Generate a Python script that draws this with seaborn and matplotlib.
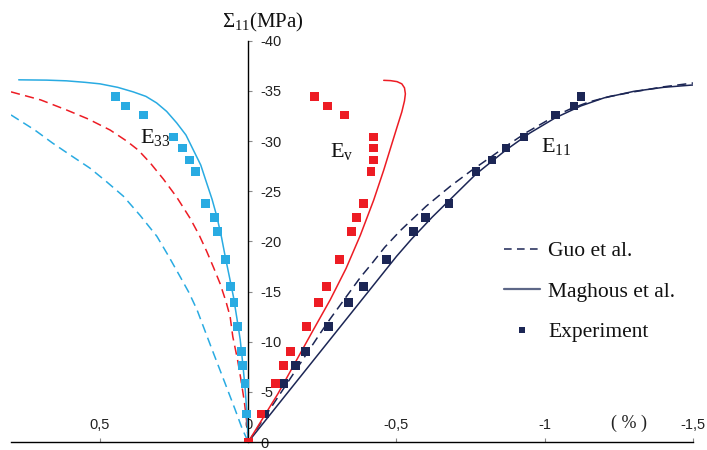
import numpy as np
import pandas as pd
import matplotlib
matplotlib.use("Agg")
import matplotlib.pyplot as plt
from matplotlib.lines import Line2D
import seaborn as sns

# ---------------- data ----------------
exp_stress = [-34.4, -33.5, -32.6, -30.4, -29.3, -28.1, -27.0, -23.8, -22.4, -21.0,
              -18.2, -15.5, -13.9, -11.5, -9.0, -7.6, -5.85, -2.8, 0.0]
exp_e11 = [-1.122, -1.099, -1.035, -0.930, -0.869, -0.822, -0.768, -0.677, -0.599, -0.558,
           -0.467, -0.390, -0.338, -0.270, -0.193, -0.160, -0.119, -0.055, 0.0]
exp_ev = [-0.224, -0.268, -0.325, -0.423, -0.423, -0.423, -0.414, -0.390, -0.365, -0.349,
          -0.308, -0.265, -0.238, -0.197, -0.143, -0.119, -0.092, -0.043, 0.0]
exp_e33 = [0.448, 0.414, 0.354, 0.253, 0.222, 0.198, 0.177, 0.144, 0.113, 0.104,
           0.077, 0.060, 0.048, 0.036, 0.023, 0.018, 0.011, 0.006, 0.0]

# Maghous et al. (solid)
mag_e11_x = [0, -0.2, -0.4, -0.50, -0.55, -0.62, -0.682, -0.768, -0.869, -0.95, -1.035, -1.122,
             -1.2, -1.3, -1.4, -1.505]
mag_e11_y = [0, -7.4, -14.8, -18.5, -20.2, -22.4, -24.2, -26.7, -29.1, -30.8, -32.3, -33.5,
             -34.3, -34.95, -35.35, -35.6]
mag_ev_x = [0, -0.1, -0.22, -0.277, -0.33, -0.378, -0.423, -0.457, -0.48, -0.502, -0.518, -0.527,
            -0.530, -0.527, -0.518, -0.502, -0.48, -0.457]
mag_ev_y = [0, -4.8, -11.2, -14.2, -17.3, -20.6, -24.1, -27.1, -29.3, -31.4, -32.9, -34.0,
            -34.7, -35.3, -35.7, -35.92, -36.02, -36.05]
mag_e33_x = [0.774, 0.68, 0.613, 0.55, 0.5, 0.44, 0.388, 0.345, 0.309, 0.275, 0.241, 0.21, 0.185,
             0.16, 0.140, 0.122, 0.106, 0.09, 0.077, 0.063, 0.050, 0.038, 0.027, 0.018, 0.010, 0.004, 0]
mag_e33_y = [-36.1, -36.07, -36.0, -35.85, -35.7, -35.35, -34.9, -34.45, -33.8, -32.95, -31.8,
             -30.6, -29.1, -27.6, -25.8, -24.2, -22.5, -20.4, -18.4, -16.4, -14.5, -12.3, -10.2,
             -7.7, -5.2, -2.6, 0]

# Guo et al. (dashed)
guo_e11_x = [0, -0.242, -0.277, -0.378, -0.42, -0.46, -0.514, -0.6, -0.682, -0.75, -0.818, -0.88,
             -0.941, -1.0, -1.035, -1.09, -1.15, -1.22, -1.3, -1.4, -1.505]
guo_e11_y = [0, -10.8, -12.3, -16.4, -17.9, -19.4, -21.1, -23.5, -25.5, -27.0, -28.4, -29.7,
             -30.9, -31.9, -32.5, -33.25, -33.9, -34.45, -34.9, -35.4, -35.8]
guo_ev_x = [0.80, 0.70, 0.613, 0.54, 0.466, 0.41, 0.371, 0.33, 0.286, 0.241, 0.196, 0.165, 0.140,
            0.117, 0.095, 0.075, 0.061, 0.052, 0.036, 0.025, 0.013, 0.005, 0]
guo_ev_y = [-34.9, -34.1, -33.1, -32.2, -31.1, -30.0, -29.1, -27.8, -26.2, -24.4, -22.3, -20.6,
            -19.0, -17.4, -15.8, -14.0, -12.5, -10.5, -8.2, -6.3, -4.0, -2.0, 0]
guo_e33_x = [0.80, 0.72, 0.66, 0.60, 0.534, 0.48, 0.421, 0.365, 0.308, 0.27, 0.230, 0.20, 0.173,
             0.123, 0.078, 0.045, 0.02, 0]
guo_e33_y = [-32.6, -31.1, -29.8, -28.6, -27.3, -26.0, -24.5, -22.6, -20.5, -18.6, -16.5, -14.9,
             -13.2, -9.3, -5.85, -3.3, -1.3, 0]

x_ticks = [0.5, 0, -0.5, -1, -1.5]
x_tick_labels = ["0,5", "0", "-0,5", "-1", "-1,5"]
y_ticks = [0, -5, -10, -15, -20, -25, -30, -35, -40]
y_tick_labels = ["0", "-5", "-10", "-15", "-20", "-25", "-30", "-35", "-40"]

legend_labels = ["Guo et al.", "Maghous et al.", "Experiment"]

# ---------------- style ----------------
sns.set_theme(style="white")
plt.rcParams["font.family"] = ["Liberation Sans", "DejaVu Sans"]
plt.rcParams["mathtext.fontset"] = "custom"
plt.rcParams["mathtext.rm"] = "Liberation Serif"
plt.rcParams["mathtext.it"] = "Liberation Serif:italic"

NAVY = "#1c2655"
RED = "#ed1c24"
BLUE = "#29abe2"
DASH = (0, (6, 3.5))

W, H = 707, 450
fig = plt.figure(figsize=(W / 100, H / 100), dpi=100)
ax = fig.add_axes([11 / W, 8 / H, (693 - 11) / W, (442 - 40.7) / H])

def curve(x, y, color, ls):
    df = pd.DataFrame({"x": x, "y": y})
    sns.lineplot(data=df, x="x", y="y", sort=False, estimator=None, color=color,
                 linewidth=1.1, linestyle=ls, ax=ax)

curve(guo_e33_x, guo_e33_y, BLUE, DASH)
curve(guo_ev_x, guo_ev_y, RED, DASH)
curve(mag_e33_x, mag_e33_y, BLUE, "-")
curve(guo_e11_x, guo_e11_y, NAVY, DASH)
curve(mag_e11_x, mag_e11_y, NAVY, "-")
curve(mag_ev_x, mag_ev_y, RED, "-")

for xs, col in [(exp_e33, BLUE), (exp_e11, NAVY), (exp_ev, RED)]:
    sns.scatterplot(x=xs, y=exp_stress, marker="s", s=40, color=col,
                    edgecolor="none", linewidth=0, ax=ax, zorder=3)

ax.set_xlim(0.80, -1.5)
ax.set_ylim(0, -40)
ax.set_xlabel("")
ax.set_ylabel("")

# spines
ax.spines["left"].set_visible(False)
ax.spines["bottom"].set_visible(False)
ax.spines["right"].set_position(("data", 0))
ax.spines["top"].set_position(("data", 0))
for s in ("right", "top"):
    ax.spines[s].set_color("black")
    ax.spines[s].set_linewidth(1.0)

ax.yaxis.tick_right()
ax.xaxis.tick_top()
ax.set_xticks(x_ticks)
ax.set_xticklabels(x_tick_labels)
ax.set_yticks(y_ticks)
ax.set_yticklabels(y_tick_labels)
ax.tick_params(axis="y", direction="out", length=3, width=0.8, color="#888888",
               pad=6, labelsize=10.5, labelcolor="#222222")
ax.tick_params(axis="x", direction="out", length=3, width=0.8, color="#888888",
               pad=4, labelsize=10.5, labelcolor="#222222")
ax.grid(False)
ax.set_facecolor("none")

# texts
serif = ["Liberation Serif", "DejaVu Serif"]
fig.text(222 / W, 1 - 27 / H, r"$\Sigma_{11}$(MPa)", fontsize=15, family=serif,
         ha="left", va="baseline", color="#111111")
fig.text(629 / W, 1 - 423 / H, "( % )", fontsize=13, family=serif,
         ha="center", va="center", color="#222222")
fig.text(140 / W, 1 - 143 / H, r"$\mathrm{E}_{33}$", fontsize=16, ha="left", va="baseline", color="#111111")
fig.text(330 / W, 1 - 157 / H, r"$\mathrm{E}_{\mathrm{v}}$", fontsize=16, ha="left", va="baseline", color="#111111")
fig.text(541 / W, 1 - 152 / H, r"$\mathrm{E}_{11}$", fontsize=16, ha="left", va="baseline", color="#111111")

handles = [
    Line2D([], [], color=NAVY, linewidth=1.1, linestyle=(0, (5, 3.5))),
    Line2D([], [], color="#5d6787", linewidth=1.6, linestyle="-"),
    Line2D([], [], color=NAVY, linestyle="none", marker="s", markersize=4.5, markeredgewidth=0),
]
leg = ax.legend(handles, legend_labels, loc="upper left",
                bbox_to_anchor=(504 / W, 1 - 241 / H), bbox_transform=fig.transFigure,
                frameon=False, prop={"family": serif, "size": 15.5}, handlelength=1.65,
                handletextpad=0.4, labelspacing=0.95, borderpad=0, borderaxespad=0)
for t in leg.get_texts():
    t.set_color("#111111")

fig.savefig("out.png", dpi=100)
